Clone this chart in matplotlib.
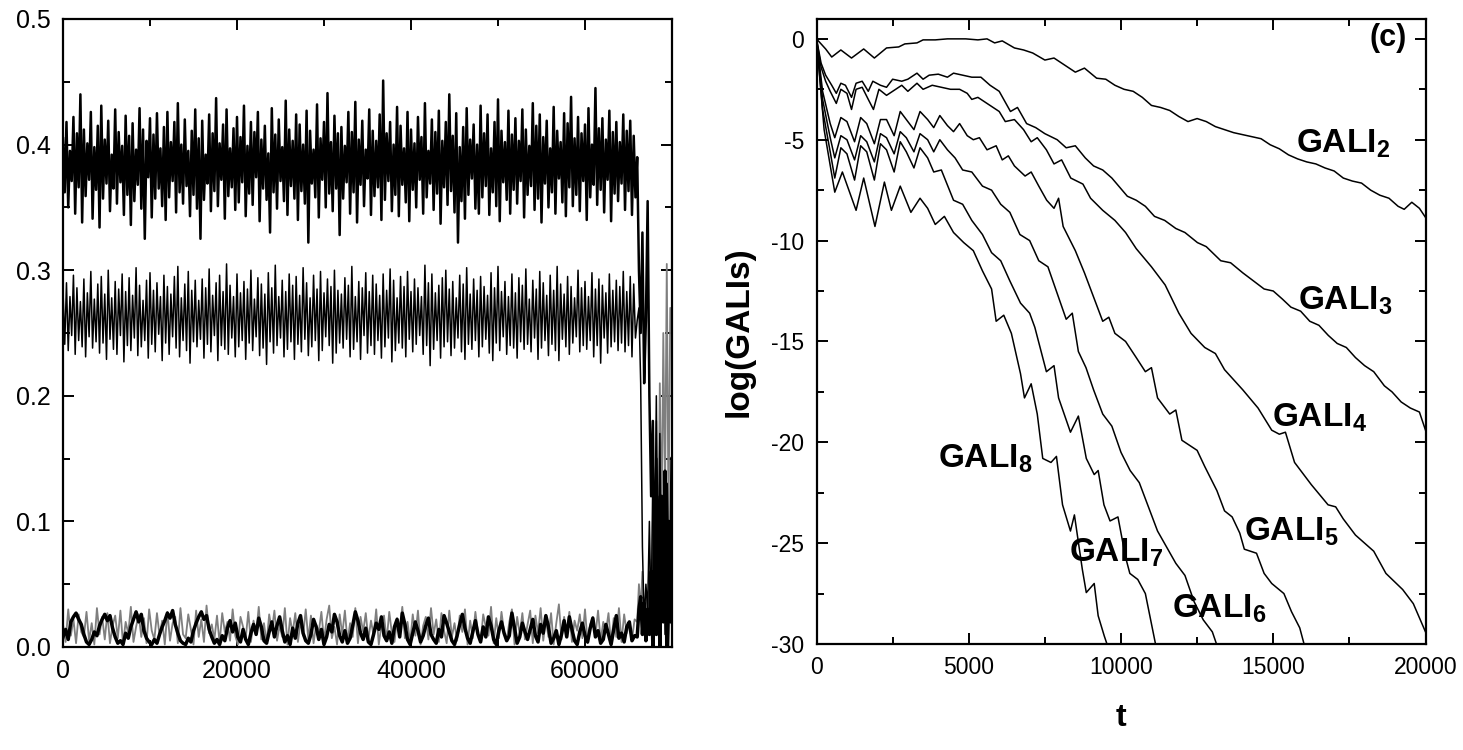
import numpy as np
import matplotlib
matplotlib.use("Agg")
import matplotlib.pyplot as plt
from matplotlib.ticker import MultipleLocator

plt.rcParams['font.family'] = ['Liberation Sans', 'DejaVu Sans']
plt.rcParams['axes.unicode_minus'] = False
plt.rcParams['mathtext.fontset'] = 'custom'
plt.rcParams['mathtext.rm'] = 'Liberation Sans'
plt.rcParams['mathtext.bf'] = 'Liberation Sans:bold'

# ---------------- left panel data (values in 1/1000) ----------------
# two upper bands sampled every 200 time units, two lower bands every 300
band_top = [
    405, 362, 418, 350, 395, 371, 422, 345, 409, 366, 440, 338, 412, 359, 401, 372, 426, 341, 398, 364,
    415, 334, 431, 357, 404, 369, 419, 347, 392, 365, 428, 353, 410, 370, 399, 344, 423, 360, 407, 336,
    417, 355, 396, 368, 429, 349, 412, 325, 403, 374, 421, 342, 408, 357, 425, 365, 397, 351, 414, 340,
    426, 358, 402, 371, 418, 346, 433, 362, 400, 353, 420, 367, 395, 343, 411, 360, 428, 349, 405, 325,
    419, 356, 392, 369, 424, 347, 409, 363, 437, 351, 401, 372, 416, 341, 428, 359, 397, 366, 413, 348,
    422, 354, 406, 370, 431, 343, 399, 361, 418, 352, 410, 374, 426, 339, 404, 365, 415, 356, 393, 330,
    429, 362, 408, 349, 420, 371, 398, 355, 435, 344, 412, 367, 403, 357, 424, 340, 416, 363, 400, 353,
    427, 322, 411, 369, 396, 358, 432, 342, 405, 372, 418, 350, 441, 361, 402, 347, 423, 365, 409, 328,
    414, 357, 399, 370, 426, 345, 410, 362, 434, 338, 404, 368, 419, 351, 396, 373, 428, 344, 411, 359,
    403, 366, 424, 340, 451, 356, 409, 371, 418, 347, 400, 360, 430, 343, 415, 368, 397, 354, 426, 339,
    412, 364, 401, 350, 422, 372, 406, 345, 433, 358, 395, 369, 420, 348, 410, 361, 427, 337, 403, 366,
    418, 352, 440, 363, 407, 346, 425, 322, 398, 355, 414, 341, 429, 360, 404, 373, 416, 349, 400, 345,
    431, 358, 409, 367, 424, 344, 397, 362, 418, 351, 436, 339, 411, 370, 402, 356, 427, 345, 408, 364,
    421, 353, 403, 371, 428, 342, 412, 360, 399, 367, 433, 348, 415, 357, 424, 338, 406, 369, 419, 350,
    397, 362, 430, 345, 411, 373, 402, 354, 425, 343, 417, 366, 438, 351, 405, 360, 422, 347, 409, 371,
    416, 340, 429, 358, 400, 368, 445, 352, 413, 364, 421, 346, 404, 372, 427, 339, 410, 361, 418, 355,
    402, 369, 424, 348, 411, 363, 419, 344, 407, 358,
]
band_mid = [
    284, 241, 290, 236, 279, 248, 296, 233, 286, 244, 275, 239, 293, 231, 282, 247, 299, 238, 277, 243,
    289, 234, 295, 242, 281, 229, 300, 245, 278, 237, 291, 233, 285, 248, 297, 227, 283, 240, 294, 236,
    280, 246, 302, 232, 288, 239, 276, 244, 292, 230, 298, 241, 284, 235, 290, 249, 279, 228, 296, 242,
    287, 233, 281, 247, 295, 238, 303, 231, 278, 244, 289, 236, 299, 226, 284, 243, 292, 239, 276, 245,
    293, 230, 286, 241, 301, 235, 280, 248, 290, 228, 296, 240, 283, 237, 305, 233, 288, 246, 279, 231,
    297, 239, 282, 244, 291, 229, 285, 242, 300, 236, 277, 247, 294, 232, 289, 238, 281, 225, 298, 243,
    286, 234, 304, 240, 279, 246, 292, 231, 283, 237, 297, 243, 288, 229, 295, 241, 280, 235, 302, 245,
    290, 232, 278, 239, 296, 244, 285, 228, 299, 236, 282, 247, 293, 240, 287, 226, 300, 234, 284, 242,
    281, 238, 294, 245, 288, 231, 303, 237, 279, 243, 291, 229, 286, 248, 298, 234, 283, 240, 296, 233,
    289, 244, 280, 230, 297, 239, 284, 246, 301, 227, 292, 236, 278, 242, 295, 238, 287, 231, 299, 245,
    283, 235, 293, 241, 286, 248, 279, 233, 304, 240, 290, 224, 297, 237, 282, 244, 288, 230, 294, 239,
    300, 243, 285, 232, 291, 238, 278, 246, 296, 235, 289, 229, 302, 241, 281, 237, 293, 244, 284, 231,
    295, 239, 287, 245, 280, 234, 298, 228, 286, 242, 303, 236, 283, 247, 291, 233, 279, 240, 297, 238,
    282, 230, 294, 243, 288, 237, 301, 241, 277, 235, 292, 246, 285, 229, 299, 238, 290, 244, 280, 232,
    296, 241, 284, 236, 303, 228, 289, 245, 281, 239, 295, 233, 287, 242, 278, 247, 300, 235, 286, 240,
    291, 237, 279, 244, 298, 231, 285, 240, 293, 226, 288, 246, 282, 234, 297, 239, 284, 243, 292, 236,
    287, 242, 299, 235, 283, 240, 295, 231, 289, 246,
]
band_grey = [
    18, 4, 30, 9, 22, 3, 26, 12, 8, 28, 5, 19, 2, 31, 10, 24, 6, 27, 3, 17,
    25, 7, 29, 2, 20, 11, 32, 4, 16, 26, 8, 23, 3, 30, 13, 6, 27, 9, 21, 2,
    28, 5, 19, 24, 3, 31, 10, 7, 26, 14, 2, 29, 8, 22, 4, 33, 11, 18, 6, 25,
    3, 27, 12, 20, 5, 30, 9, 2, 24, 16, 7, 28, 4, 21, 10, 32, 6, 19, 3, 26,
    13, 29, 5, 17, 8, 31, 2, 23, 11, 27, 4, 20, 9, 30, 6, 25, 3, 18, 12, 28,
    5, 22, 33, 7, 16, 2, 26, 10, 29, 4, 19, 8, 31, 3, 24, 12, 27, 6, 21, 9,
    30, 2, 18, 25, 5, 28, 11, 4, 23, 14, 32, 7, 20, 3, 26, 9, 29, 2, 17, 24,
    6, 31, 10, 22, 4, 27, 13, 3, 29, 8, 19, 5, 25, 12, 30, 2, 21, 7, 28, 11,
    4, 26, 16, 9, 32, 3, 23, 7, 28, 12, 5, 20, 30, 2, 24, 10, 27, 6, 18, 29,
    3, 25, 11, 31, 5, 22, 8, 27, 2, 19, 34, 6, 24, 10, 28, 4, 21, 13, 26, 7,
    30, 3, 18, 24, 9, 29, 5, 20, 12, 27, 2, 23, 8, 31, 4, 26, 11, 19, 6, 22,
]
band_low = [
    8, 14, 6, 20, 24, 27, 22, 18, 10, 4, 2, 6, 12, 9, 17, 22, 26, 21, 25, 15,
    8, 3, 5, 2, 11, 7, 16, 22, 28, 20, 26, 13, 7, 4, 2, 6, 3, 10, 16, 21,
    27, 23, 29, 18, 11, 5, 3, 2, 7, 4, 13, 19, 24, 28, 22, 25, 14, 8, 3, 6,
    2, 9, 5, 15, 21, 12, 19, 8, 4, 14, 6, 2, 11, 18, 10, 23, 16, 5, 3, 12,
    20, 8, 17, 24, 13, 4, 9, 2, 15, 7, 19, 25, 11, 5, 3, 10, 22, 16, 6, 14,
    2, 8, 18, 12, 26, 20, 9, 4, 13, 3, 7, 17, 28, 21, 11, 6, 15, 4, 2, 10,
    19, 14, 24, 9, 5, 12, 3, 16, 22, 8, 27, 18, 6, 2, 11, 20, 13, 4, 9, 17,
    23, 10, 6, 3, 14, 8, 25, 19, 12, 5, 2, 9, 18, 26, 15, 7, 3, 12, 21, 10,
    4, 16, 8, 24, 17, 6, 2, 13, 20, 11, 5, 9, 27, 15, 3, 8, 19, 12, 6, 14,
    22, 9, 4, 18, 11, 25, 16, 3, 7, 13, 2, 10, 21, 8, 24, 14, 5, 2, 12, 19,
    9, 4, 15, 23, 8, 13, 3, 6, 18, 10, 2, 14, 25, 7, 11, 4, 16, 20, 5, 9,
]
# after t = 66000 all four series break down (sampled every 200)
tail_top = [390, 300, 250, 330, 210, 260, 355, 200, 120, 180, 50, 150, 80, 120, 30, 100, 20, 130, 50, 100, 20]
tail_mid = [260, 270, 210, 80, 20, 50, 30, 100, 20, 140, 60, 200, 10, 170, 40, 120, 10, 80, 0, 60, 10]
tail_grey = [20, 50, 30, 60, 10, 40, 20, 70, 10, 100, 20, 180, 50, 210, 90, 250, 120, 305, 100, 270, 260]
tail_low = [8, 30, 40, 10, 35, 5, 30, 10, 60, 0, 90, 10, 110, 0, 120, 20, 140, 0, 100, 20, 150]

# ---------------- right panel data: log(GALI_k) vs t ----------------
t2 = [0, 300, 500, 800, 1150, 1550, 1900, 2300, 2700, 2900, 3300, 3500, 3900, 4300, 4900, 5300, 5600,
      5850, 6100, 6500, 6800, 7100, 7500, 7800, 8200, 8500, 8800, 9200, 9500, 9800, 10100, 10400, 10700,
      11000, 11300, 11600, 11900, 12200, 12500, 12800, 13100, 13400, 13700, 14000, 14300, 14600, 14900,
      15200, 15500, 15800, 16100, 16400, 16700, 17000, 17300, 17600, 17900, 18200, 18500, 18800, 19100,
      19300, 19550, 19800, 20000]
g2 = [0, -0.5, -0.9, -0.55, -0.95, -0.5, -0.95, -0.45, -0.4, -0.25, -0.2, -0.05, -0.05, 0, 0, -0.05, 0,
      -0.2, -0.1, -0.45, -0.55, -0.7, -1.05, -0.95, -1.35, -1.65, -1.45, -1.95, -2.0, -2.3, -2.5, -2.6, -2.9,
      -3.3, -3.4, -3.55, -3.85, -4.1, -3.95, -4.1, -4.35, -4.5, -4.65, -4.75, -4.85, -4.95, -5.25,
      -5.45, -5.75, -5.95, -6.1, -6.2, -6.4, -6.55, -6.9, -7.05, -7.15, -7.5, -7.75, -7.9, -8.3,
      -8.45, -8.1, -8.4, -8.85]

t3 = [0, 150, 300, 500, 650, 800, 950, 1150, 1300, 1500, 1700, 1850, 2100, 2300, 2500, 2800, 3000, 3300,
      3500, 3700, 4000, 4300, 4500, 4800, 5100, 5400, 5700, 6000, 6370, 6600, 6900, 7200, 7500, 7905, 8200,
      8500, 8826, 9100, 9400, 9700, 10207, 10500, 10800, 11100, 11435, 11800, 12100, 12510, 12800, 13277,
      13600, 14000, 14351, 14700, 15000, 15300, 15580, 15900, 16200, 16500, 16807, 17100, 17400, 17700,
      18000, 18300, 18649, 18900, 19200, 19500, 19800, 20000]
g3 = [0, -1.2, -1.8, -2.3, -2.7, -2.2, -2.3, -2.9, -2.2, -2.1, -2.6, -2.1, -2.3, -2.4, -2.0, -2.1, -2.0, -1.7,
      -2.0, -1.8, -1.75, -1.9, -1.7, -1.8, -1.9, -1.9, -2.3, -2.6, -3.6, -3.4, -4.2, -4.4, -4.7, -5.0, -5.4,
      -5.3, -5.9, -6.3, -6.5, -6.9, -7.8, -8.0, -8.3, -8.8, -9.0, -9.4, -9.6, -10.1, -10.3, -11.0,
      -11.1, -11.6, -12.0, -12.4, -12.5, -12.9, -13.3, -13.5, -14.0, -14.2, -14.7, -15.1, -15.3, -15.8,
      -16.2, -16.5, -17.2, -17.5, -18.0, -18.3, -18.5, -19.4]

t4 = [0, 150, 300, 450, 650, 800, 1000, 1150, 1300, 1500, 1700, 1870, 2050, 2300, 2500, 2800, 3000, 3300,
      3500, 3800, 4100, 4400, 4700, 4950, 5100, 5300, 5700, 6000, 6200, 6500, 6800, 7050, 7250, 7550, 7800,
      8050, 8350, 8750, 9000, 9400, 9800, 10150, 10500, 11000, 11450, 11900, 12300, 12750, 13100, 13400,
      14000, 14500, 14950, 15200, 15400, 15700, 16250, 16800, 17050, 17300, 17700, 18300, 18700, 19250,
      19600, 20000]
g4 = [0, -1.4, -2.1, -2.6, -3.2, -2.5, -2.7, -3.5, -2.5, -2.4, -3.0, -3.5, -2.5, -2.8, -2.6, -2.3, -2.6, -2.2,
      -2.5, -2.3, -2.4, -2.5, -2.5, -2.7, -3.0, -2.9, -3.3, -3.6, -4.1, -4.0, -4.5, -5.1, -4.9, -5.5, -6.2,
      -6.0, -6.9, -7.2, -7.9, -8.5, -9.0, -9.6, -10.4, -11.3, -12.2, -13.6, -14.6, -15.3, -15.6, -16.4,
      -17.4, -18.3, -19.4, -19.6, -19.5, -21.0, -22.1, -23.1, -23.2, -23.8, -24.6, -25.4, -26.5, -27.3,
      -28.0, -29.4]

t5 = [0, 200, 450, 600, 800, 1000, 1250, 1450, 1650, 1900, 2100, 2300, 2550, 2750, 2950, 3200, 3400, 3650,
      3850, 4050, 4300, 4500, 4700, 4950, 5150, 5350, 5600, 5900, 6100, 6300, 6500, 6850, 7050, 7300, 7560,
      7800, 7950, 8100, 8500, 8800, 9100, 9400, 9600, 9800, 10150, 10500, 10800, 11000, 11200, 11600,
      11800, 12000, 12500, 12750, 13150, 13400, 13650, 13900, 14050, 14450, 14700, 14950, 15350, 15600,
      15870, 16100]
g5 = [0, -2.6, -4.2, -4.9, -3.9, -4.1, -5.1, -3.9, -4.2, -5.2, -4.0, -4.0, -4.8, -3.6, -4.0, -4.5, -3.6, -4.0,
      -4.4, -3.8, -4.3, -4.6, -4.2, -4.8, -5.0, -4.9, -5.5, -5.3, -6.0, -5.8, -6.3, -6.8, -6.6, -7.3, -8.0,
      -8.4, -7.9, -9.3, -10.5, -11.6, -12.8, -14.0, -13.8, -14.6, -15.0, -15.8, -16.5, -16.3, -17.8, -18.6,
      -18.4, -19.9, -20.4, -21.2, -22.4, -23.4, -23.7, -24.5, -25.3, -25.5, -26.5, -27.0, -27.5, -28.4,
      -29.2, -30.5]

t6 = [0, 200, 450, 600, 800, 1000, 1250, 1450, 1650, 1900, 2100, 2300, 2550, 2750, 2950, 3200, 3400, 3650,
      3850, 4050, 4300, 4550, 4800, 5100, 5450, 5750, 6050, 6350, 6680, 7000, 7300, 7600, 7900, 8200, 8400,
      8600, 8850, 9100, 9400, 9700, 10000, 10300, 10600, 10900, 11200, 11500, 11800, 12100, 12400, 12700,
      13000, 13250]
g6 = [0, -3.0, -4.9, -5.9, -4.8, -5.0, -6.0, -4.8, -5.1, -6.1, -4.7, -4.9, -5.7, -4.6, -4.9, -5.6, -4.7, -5.0,
      -5.6, -5.0, -5.5, -5.9, -6.5, -6.6, -7.3, -7.5, -8.2, -8.6, -9.7, -10.0, -11.0, -11.3, -12.6, -13.9, -13.6,
      -15.5, -16.3, -17.4, -18.6, -19.2, -20.5, -21.4, -22.0, -23.2, -24.4, -25.2, -26.0, -26.6, -27.9, -28.8,
      -29.4, -30.5]

t7 = [0, 200, 450, 600, 800, 1000, 1250, 1450, 1650, 1900, 2100, 2300, 2550, 2750, 2950, 3200, 3400, 3650,
      3850, 4100, 4500, 4800, 5100, 5450, 5750, 6050, 6350, 6700, 7000, 7170, 7550, 7800, 7950, 8340, 8600,
      8860, 9120, 9250, 9440, 9640, 9900, 10150, 10290, 10550, 10800, 11000, 11200]
g7 = [0, -3.5, -5.6, -6.9, -5.4, -5.7, -7.0, -5.3, -5.6, -7.0, -5.2, -5.5, -6.6, -5.1, -5.6, -6.4, -5.4, -5.9,
      -6.6, -6.5, -8.0, -8.2, -9.0, -9.7, -10.6, -11.0, -12.0, -13.1, -13.6, -14.3, -16.5, -16.2, -17.8, -19.5,
      -18.7, -20.8, -21.6, -21.4, -23.1, -23.9, -23.7, -25.7, -26.5, -26.8, -27.5, -29.0, -30.5]

t8 = [0, 250, 600, 850, 1300, 1550, 1920, 2230, 2460, 2750, 3100, 3400, 3650, 3900, 4200, 4500, 4835, 5150,
      5450, 5750, 5900, 6150, 6400, 6700, 6830, 7050, 7250, 7430, 7700, 7880, 8080, 8340, 8470, 8730, 8860,
      9120, 9250, 9450, 9650]
g8 = [0, -4.5, -7.6, -6.6, -8.5, -6.9, -9.3, -7.1, -8.5, -7.3, -8.6, -7.9, -8.4, -9.2, -8.8, -9.6, -10.1, -10.5,
      -11.5, -12.4, -14.0, -13.7, -14.6, -16.6, -17.8, -17.1, -18.6, -20.8, -21.0, -20.7, -23.1, -24.4, -23.6,
      -26.3, -27.45, -27.0, -28.6, -29.6, -30.5]

gali_t = [t2, t3, t4, t5, t6, t7, t8]
gali_v = [g2, g3, g4, g5, g6, g7, g8]
gali_names = ['2', '3', '4', '5', '6', '7', '8']
label_pos = [(15750, -5.6), (15800, -13.4), (14950, -19.2), (14030, -24.85),
             (11680, -28.7), (8290, -25.9), (3990, -21.25)]


def series(band, tail, step):
    t_band = np.arange(len(band)) * step
    t_tail = 66000 + np.arange(len(tail)) * 200
    t = np.concatenate([t_band, t_tail])
    y = np.concatenate([band, tail]) / 1000.0
    return t, y


fig = plt.figure(figsize=(14.63, 7.5), dpi=100)
ax1 = fig.add_axes([63 / 1463, 103 / 750, 609 / 1463, 628 / 750])
ax2 = fig.add_axes([816.5 / 1463, 106 / 750, 609 / 1463, 625.3 / 750])

# left panel
t, y = series(band_grey, tail_grey, 300)
ax1.plot(t, y, color='#7f7f7f', lw=1.3)
t, y = series(band_low, tail_low, 300)
ax1.plot(t, y, color='black', lw=2.5)
t, y = series(band_top, tail_top, 200)
ax1.plot(t, y, color='black', lw=1.8)
t, y = series(band_mid, tail_mid, 200)
ax1.plot(t, y, color='black', lw=1.1)

ax1.set_xlim(0, 70000)
ax1.set_ylim(0, 0.5)
ax1.xaxis.set_minor_locator(MultipleLocator(10000))
ax1.yaxis.set_minor_locator(MultipleLocator(0.05))
ax1.set_xticks([0, 20000, 40000, 60000])
ax1.set_yticks([0, 0.1, 0.2, 0.3, 0.4, 0.5])
ax1.set_yticklabels(['0.0', '0.1', '0.2', '0.3', '0.4', '0.5'])
ax1.tick_params(labelsize=18, pad=9)

# right panel
for tt, vv in zip(gali_t, gali_v):
    ax2.plot(tt, vv, color='black', lw=1.1)
for (lx, ly), k in zip(label_pos, gali_names):
    ax2.text(lx, ly, r'$\mathbf{GALI}_{\mathbf{%s}}$' % k, fontsize=24, ha='left', va='baseline')
ax2.text(19400, 0.05, '(c)', fontsize=22, fontweight='bold', ha='right', va='center')

ax2.set_xlim(0, 20000)
ax2.set_ylim(-30, 1.0)
ax2.xaxis.set_major_locator(MultipleLocator(5000))
ax2.xaxis.set_minor_locator(MultipleLocator(2500))
ax2.yaxis.set_major_locator(MultipleLocator(5))
ax2.yaxis.set_minor_locator(MultipleLocator(2.5))
ax2.tick_params(labelsize=16.5, pad=9)
ax2.set_xlabel('t', fontsize=23, fontweight='bold', labelpad=17)
ax2.set_ylabel('log(GALIs)', fontsize=24, fontweight='bold', labelpad=12)

for ax in (ax1, ax2):
    ax.tick_params(which='both', direction='in', top=True, right=True, width=1.4)
    ax.tick_params(which='major', length=8)
    ax.tick_params(which='minor', length=5)
    for s in ax.spines.values():
        s.set_linewidth(1.6)

fig.savefig('out.png', dpi=100)
